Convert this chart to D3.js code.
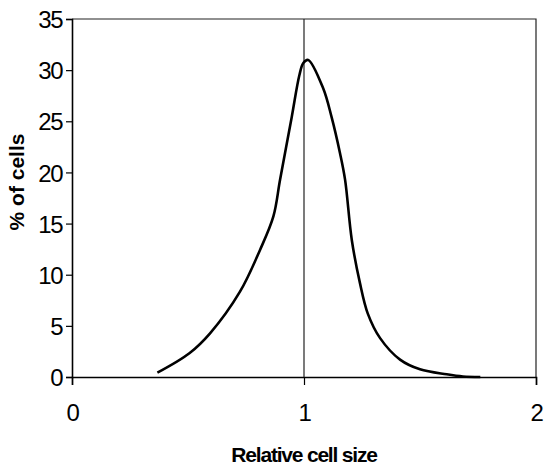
<!DOCTYPE html>
<html>
<head>
<meta charset="utf-8">
<script src="https://cdn.jsdelivr.net/npm/d3@7"></script>
<style>
    body { margin: 0; background: #fff; }
    svg { display: block; }
    .tick-label { font-family: "Liberation Sans", Arial, sans-serif; font-size: 24px; letter-spacing: -1.5px; fill: #000; }
    .axis-title { font-family: "Liberation Sans", Arial, sans-serif; font-weight: bold; fill: #000; }
</style>
</head>
<body>
<div id="chart"></div>
<script>
// relative cell size vs % of cells
const relSize = [0.368, 0.506, 0.595, 0.724, 0.810, 0.868, 0.897, 0.947, 0.980, 0.997, 1.018,
    1.083, 1.119, 1.155, 1.177, 1.206, 1.241, 1.275, 1.328, 1.414, 1.5, 1.615, 1.685, 1.76];
const pctCells = [0.42, 2.32, 4.27, 8.34, 12.4, 15.7, 19.3, 25.4, 29.5, 30.7, 31.0,
    28.2, 25.4, 21.9, 19.3, 13.4, 9.2, 6.2, 3.8, 1.7, 0.75, 0.26, 0.05, 0.0];
const xTicks = [0, 1, 2];
const yTicks = [0, 5, 10, 15, 20, 25, 30, 35];
const refLine = 1;

const width = 544, height = 466;
const margin = { top: 19, right: 8, bottom: 89, left: 72 };

const svg = d3.select("#chart").append("svg")
    .attr("width", width)
    .attr("height", height);

const x = d3.scaleLinear().domain([0, 2]).range([margin.left, width - margin.right]);
const y = d3.scaleLinear().domain([0, 35]).range([height - margin.bottom, margin.top]);

// frame (top and right)
svg.append("path")
    .attr("d", `M${x(0)},${y(35)}H${x(2)}V${y(0)}`)
    .attr("fill", "none")
    .attr("stroke", "#222")
    .attr("stroke-width", 1.2);

// y axis
const yAxis = svg.append("g")
    .attr("transform", `translate(${x(0)},0)`)
    .call(d3.axisLeft(y).tickValues(yTicks).tickFormat(d3.format("d")).tickSize(6).tickPadding(4));
yAxis.select(".domain").attr("stroke", "#000").attr("stroke-width", 1.6);
yAxis.selectAll(".tick line").attr("stroke", "#000").attr("stroke-width", 1.2);
yAxis.selectAll("text").attr("class", "tick-label").attr("dy", "0.36em");

// x axis
const xAxis = svg.append("g")
    .attr("transform", `translate(0,${y(0)})`)
    .call(d3.axisBottom(x).tickValues(xTicks).tickFormat(d3.format("d")).tickSize(8).tickPadding(19));
xAxis.select(".domain").attr("stroke", "#000").attr("stroke-width", 1.6);
xAxis.selectAll(".tick line").attr("stroke", "#000").attr("stroke-width", 1.2);
xAxis.selectAll("text").attr("class", "tick-label");

// reference line at size 1
svg.append("line")
    .attr("x1", x(refLine)).attr("x2", x(refLine))
    .attr("y1", y(35)).attr("y2", y(0))
    .attr("stroke", "#222")
    .attr("stroke-width", 1.2);

// distribution curve
const pts = relSize.map((d, i) => [d, pctCells[i]]);
svg.append("path")
    .datum(pts)
    .attr("fill", "none")
    .attr("stroke", "#000")
    .attr("stroke-width", 2.6)
    .attr("stroke-linejoin", "round")
    .attr("d", d3.line()
        .x(d => x(d[0]))
        .y(d => y(d[1]))
        .curve(d3.curveCatmullRom.alpha(0.5)));

// axis titles
svg.append("text")
    .attr("class", "axis-title")
    .attr("x", x(1))
    .attr("y", 462)
    .attr("text-anchor", "middle")
    .style("font-size", "21px")
    .style("letter-spacing", "-1.2px")
    .text("Relative cell size");

svg.append("text")
    .attr("class", "axis-title")
    .attr("transform", "translate(24,182) rotate(-90)")
    .attr("text-anchor", "middle")
    .style("font-size", "21px")
    .text("% of cells");
</script>
</body>
</html>
